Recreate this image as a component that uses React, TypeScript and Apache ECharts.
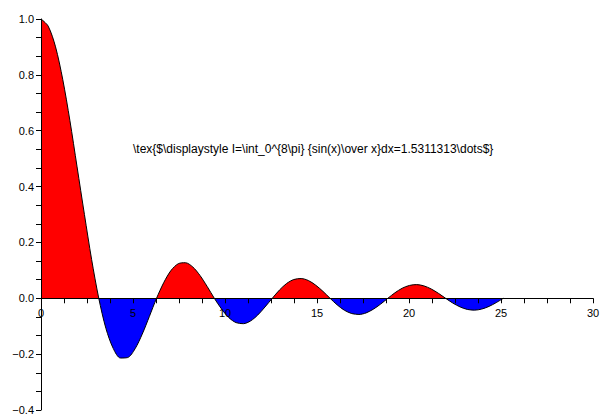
import React, { useEffect, useRef } from "react";
import * as echarts from "echarts";

// x samples (radians, step pi/8 from 0 to 8pi) and sin(x)/x values
const xValues: number[] = [
  0, 0.39, 0.79, 1.18, 1.57, 1.96, 2.36, 2.75, 3.14, 3.53, 3.93, 4.32, 4.71, 5.11, 5.5, 5.89,
  6.28, 6.68, 7.07, 7.46, 7.85, 8.25, 8.64, 9.03, 9.42, 9.82, 10.21, 10.6, 11.0, 11.39, 11.78, 12.17,
  12.57, 12.96, 13.35, 13.74, 14.14, 14.53, 14.92, 15.32, 15.71, 16.1, 16.49, 16.89, 17.28, 17.67, 18.06, 18.46,
  18.85, 19.24, 19.63, 20.03, 20.42, 20.81, 21.21, 21.6, 21.99, 22.38, 22.78, 23.17, 23.56, 23.95, 24.35, 24.74,
  25.13,
];
const yValues: number[] = [
  1.0, 0.9745, 0.9003, 0.7842, 0.6366, 0.4705, 0.3001, 0.1392, 0, -0.1083, -0.1801, -0.2139, -0.2122, -0.181, -0.1286, -0.065,
  0, 0.0573, 0.1, 0.1238, 0.1273, 0.112, 0.0818, 0.0424, 0, -0.039, -0.0693, -0.0871, -0.0909, -0.0811, -0.06, -0.0314,
  0, 0.0295, 0.053, 0.0672, 0.0707, 0.0636, 0.0474, 0.025, 0, -0.0238, -0.0429, -0.0547, -0.0579, -0.0523, -0.0391, -0.0207,
  0, 0.0199, 0.036, 0.0461, 0.049, 0.0444, 0.0333, 0.0177, 0, -0.0171, -0.031, -0.0399, -0.0424, -0.0386, -0.029, -0.0155,
  0,
];
const annotation = "\\tex{$\\displaystyle I=\\int_0^{8\\pi} {sin(x)\\over x}dx=1.5311313\\dots$}";

const FONT = "'Liberation Sans', Arial, Helvetica, sans-serif";
const Y_MIN = -0.4;
const Y_MAX = 1.0;

export default function App() {
  const ref = useRef<HTMLDivElement>(null);
  useEffect(() => {
    if (!ref.current) return;
    const chart = echarts.init(ref.current, null, { renderer: "svg" });
    const curve = xValues.map((x, i) => [x, yValues[i]]);
    const top = 19;
    const bottom = 5;
    const gridH = 415 - top - bottom;
    // move the x axis (line, ticks, labels) up to the y = 0 level
    const zeroOffset = -(gridH * (0 - Y_MIN)) / (Y_MAX - Y_MIN);
    chart.setOption({
      animation: false,
      backgroundColor: "#fff",
      grid: { left: 41, right: 7, top, bottom, containLabel: false, outerBoundsMode: "none" },
      visualMap: {
        show: false,
        type: "piecewise",
        dimension: 1,
        seriesIndex: 0,
        pieces: [
          { gt: -1, lte: 0, color: "#0000ff" },
          { gt: 0, lte: 2, color: "#ff0000" },
        ],
        outOfRange: { color: "#0000ff" },
      },
      xAxis: {
        type: "value",
        min: 0,
        max: 30,
        interval: 5,
        offset: zeroOffset,
        z: 10,
        axisLine: { onZero: false, lineStyle: { color: "#000", width: 1 } },
        axisTick: { show: true, length: 5, lineStyle: { color: "#000" } },
        minorTick: { show: true, splitNumber: 4, length: 5, lineStyle: { color: "#000" } },
        axisLabel: { color: "#000", fontSize: 11, fontFamily: FONT, margin: 9 },
        splitLine: { show: false },
      },
      yAxis: {
        type: "value",
        min: Y_MIN,
        max: Y_MAX,
        interval: 0.2,
        z: 10,
        axisLine: { show: true, onZero: false, lineStyle: { color: "#000", width: 1 } },
        axisTick: { show: true, length: 5, lineStyle: { color: "#000" } },
        minorTick: { show: true, splitNumber: 3, length: 5, lineStyle: { color: "#000" } },
        axisLabel: {
          color: "#000",
          fontSize: 11,
          fontFamily: FONT,
          margin: 7,
          formatter: (v: number) => v.toFixed(1).replace("-", "\u2212"),
        },
        splitLine: { show: false },
      },
      graphic: [
        {
          type: "text",
          left: 133,
          top: 143,
          style: { text: annotation, fill: "#000", font: `12px ${FONT}` },
        },
      ],
      series: [
        {
          type: "line",
          data: curve,
          showSymbol: false,
          smooth: 0.3,
          silent: true,
          lineStyle: { color: "#000", width: 1 },
          areaStyle: { opacity: 1 },
        },
      ],
    });
    return () => chart.dispose();
  }, []);
  return (
    <div
      ref={ref}
      style={{ position: "fixed", left: 0, top: 0, width: 600, height: 415 }}
    />
  );
}
